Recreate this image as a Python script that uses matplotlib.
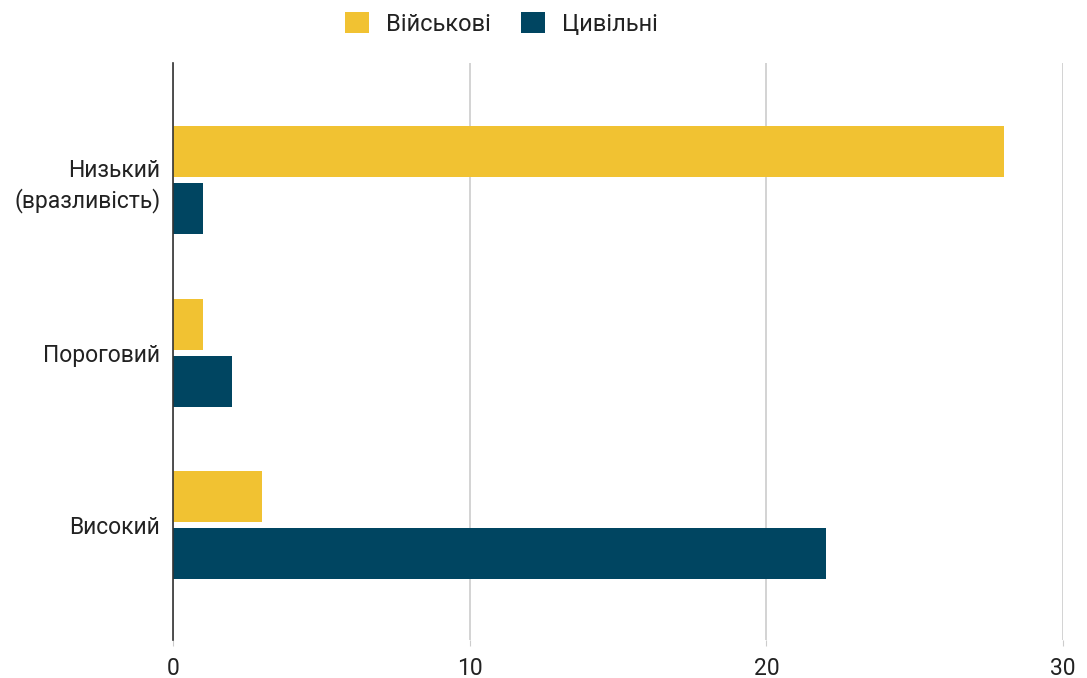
import numpy as np
import matplotlib.pyplot as plt
from matplotlib.patches import Patch

plt.rcParams['font.family'] = ['Roboto', 'DejaVu Sans']

categories = ["Низький\n(вразливість)", "Пороговий", "Високий"]
military = [28, 1, 3]
civil = [1, 2, 22]
series_names = ["Військові", "Цивільні"]
colors = ["#F1C232", "#004561"]

fig = plt.figure(figsize=(10.87, 6.78), dpi=100)
ax = fig.add_axes([0.159, 0.056, 0.819, 0.851])

y = np.arange(len(categories))
h = 0.296
ax.barh(y - 0.165, military, height=h, color=colors[0], zorder=3)
ax.barh(y + 0.165, civil, height=h, color=colors[1], zorder=3)

ax.set_xlim(0, 30)
ax.set_ylim(2.667, -0.68)
ax.set_xticks([0, 10, 20, 30])
ax.set_yticks(y)
ax.set_yticklabels(categories, fontsize=16.5, color="#222222", linespacing=1.3)
ax.tick_params(axis='x', labelsize=16.5, colors="#222222", length=4, color="#cccccc", pad=8)
ax.tick_params(axis='y', length=0, pad=9, labelleft=True)
for lbl in ax.get_yticklabels():
    lbl.set_y(lbl.get_position()[1])
ax.grid(axis='x', color="#cccccc", linewidth=1.2, zorder=0)
for s in ["top", "right", "bottom"]:
    ax.spines[s].set_visible(False)
ax.spines["left"].set_color("#333333")
ax.spines["left"].set_linewidth(1.2)
ax.spines["left"].set_zorder(4)

handles = [Patch(facecolor=c, label=n) for c, n in zip(colors, series_names)]
fig.legend(handles=handles, loc="center left", bbox_to_anchor=(345 / 1087, 1 - 24 / 678), ncol=2,
           frameon=False, fontsize=17, handlelength=1.0, handleheight=1.0, borderpad=0,
           borderaxespad=0, columnspacing=1.3, handletextpad=0.72, labelcolor="#222222")

fig.savefig("out.png", dpi=100)
